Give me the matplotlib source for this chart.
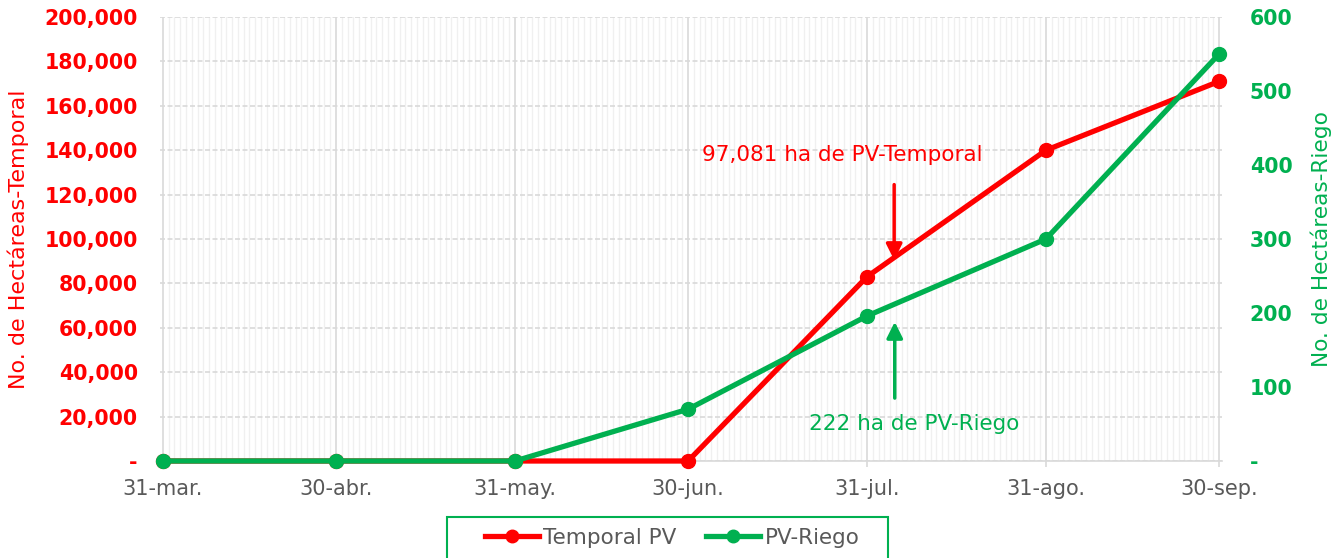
import matplotlib
matplotlib.use("Agg")
import matplotlib.pyplot as plt
import matplotlib.dates as mdates
from matplotlib.patches import Rectangle
import numpy as np
import pandas as pd

fechas = pd.to_datetime(["2023-03-31", "2023-04-30", "2023-05-31", "2023-06-30",
                         "2023-07-31", "2023-08-31", "2023-09-30"])
etiquetas = ["31-mar.", "30-abr.", "31-may.", "30-jun.", "31-jul.", "31-ago.", "30-sep."]
temporal = [0, 0, 0, 0, 83000, 140000, 171000]
riego = [0, 0, 0, 70, 196, 300, 550]

ROJO = "#FF0000"
VERDE = "#00B050"
GRIS = "#595959"

plt.rcParams['font.family'] = ['DejaVu Sans']

fig = plt.figure(figsize=(13.42, 5.58), dpi=100)
ax = fig.add_axes([160 / 1342, (558 - 461) / 558, (1222 - 160) / 1342, 444 / 558])
ax2 = ax.twinx()

ax.set_xlim(fechas[0] - pd.Timedelta(hours=12), fechas[-1] + pd.Timedelta(hours=12))
ax.set_ylim(0, 200000)
ax2.set_ylim(0, 600)

# grids
ax.xaxis.set_minor_locator(mdates.DayLocator())
ax.set_xticks(fechas)
ax.set_xticklabels(etiquetas)
ax.grid(which='minor', axis='x', color='#f0f0f0', lw=1)
ax.grid(which='major', axis='x', color='#d9d9d9', lw=1.2)
ax.set_yticks(np.arange(0, 200001, 20000))
ax.grid(which='major', axis='y', color='#d9d9d9', lw=1.2, ls=(0, (3, 1.5)))
ax.set_axisbelow(True)

for s in ax.spines.values():
    s.set_visible(False)
for s in ax2.spines.values():
    s.set_visible(False)
ax.spines['bottom'].set_visible(True)
ax.spines['bottom'].set_color('#d9d9d9')
ax.spines['bottom'].set_linewidth(1.2)

ax.tick_params(axis='x', which='major', length=4, color='#d9d9d9', width=1.2, pad=9,
               labelsize=15, labelcolor=GRIS)
ax.tick_params(axis='x', which='minor', length=0)
ax.tick_params(axis='y', length=0, pad=16, labelsize=14.8, labelcolor=ROJO)
ax2.tick_params(axis='y', length=0, pad=20, labelsize=14.8, labelcolor=VERDE)
for t in ax.get_yticklabels():
    t.set_fontweight('bold')

ax.yaxis.set_major_formatter(plt.FuncFormatter(lambda v, p: "-" if v == 0 else f"{v:,.0f}"))
ax2.set_yticks(np.arange(0, 601, 100))
ax2.yaxis.set_major_formatter(plt.FuncFormatter(lambda v, p: "-" if v == 0 else f"{v:.0f}"))
for t in ax2.get_yticklabels():
    t.set_fontweight('bold')

ax.set_ylabel("No. de Hectáreas-Temporal", color=ROJO, fontsize=16)
ax.yaxis.set_label_coords(-131 / 1062, 0.5)
ax2.set_ylabel("No. de Hectáreas-Riego", color=VERDE, fontsize=15.6, rotation=90)
ax2.yaxis.set_label_coords(1 + 89 / 1062, 0.5)

l1, = ax.plot(fechas, temporal, color=ROJO, lw=3.8, marker='o', ms=10, clip_on=False,
              label="Temporal PV", zorder=3)
l2, = ax2.plot(fechas, riego, color=VERDE, lw=3.8, marker='o', ms=10, clip_on=False,
               label="PV-Riego", zorder=3)

dia = pd.Timedelta(days=1)
ax.annotate("", xy=(fechas[4] + 4.7 * dia, 90500), xytext=(fechas[4] + 4.7 * dia, 124500),
            arrowprops=dict(arrowstyle='-|>', color=ROJO, lw=2.5, mutation_scale=24,
                            shrinkA=0, shrinkB=0))
ax.text(fechas[4] - 4.3 * dia, 137800, "97,081 ha de PV-Temporal", color=ROJO,
        fontsize=15.5, ha='center', va='center')
ax2.annotate("", xy=(fechas[4] + 4.8 * dia, 188), xytext=(fechas[4] + 4.8 * dia, 85),
             arrowprops=dict(arrowstyle='-|>', color=VERDE, lw=2.5, mutation_scale=24,
                             shrinkA=0, shrinkB=0))
ax2.text(fechas[4] + 8.2 * dia, 50, "222 ha de PV-Riego", color=VERDE,
         fontsize=15.5, ha='center', va='center')

# legend box (runs off the bottom edge)
fig.patches.append(Rectangle((447 / 1342, -0.05), (888 - 447) / 1342, 0.05 + (558 - 517) / 558,
                             transform=fig.transFigure, fill=False, edgecolor=VERDE, lw=1.5))
leg = fig.legend(handles=[l1, l2], loc='center', bbox_to_anchor=(672 / 1342, 1 - 538 / 558),
                 ncol=2, frameon=False, fontsize=15.5, handlelength=2.5, columnspacing=1.4,
                 handletextpad=0.2, markerscale=0.9)
for t in leg.get_texts():
    t.set_color(GRIS)

fig.savefig("out.png", dpi=100)
